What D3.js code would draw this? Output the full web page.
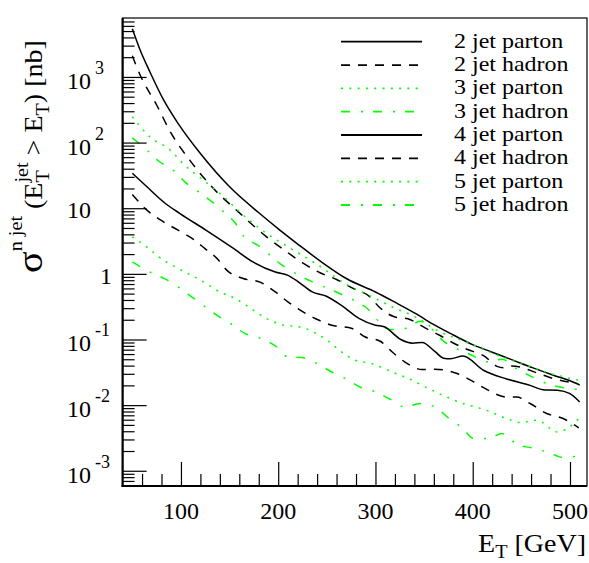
<!DOCTYPE html>
<html><head><meta charset="utf-8">
<script src="https://cdn.jsdelivr.net/npm/d3@7/dist/d3.min.js"></script>
<style>
html,body{margin:0;padding:0;background:#fff;}
svg{display:block;}
text{font-family:"Liberation Serif","Times New Roman",serif;fill:#000;}
</style></head>
<body>
<svg id="c" width="589" height="563"></svg>
<script>
// ---- data (E_T in GeV, sigma in nb) ----
const seriesNames = ["2 jet parton","2 jet hadron","3 jet parton","3 jet hadron","4 jet parton","4 jet hadron","5 jet parton","5 jet hadron"];
const jet2Parton = [[50,5400],[58,2570],[68,1200],[82,450],[97,196],[120,68],[150,21.2],[181,8.3],[202,4.6],[222,2.7],[245,1.5],[270,0.85],[300,0.53],[320,0.37],[341,0.25],[361,0.165],[380,0.117],[401,0.082],[420,0.064],[442,0.048],[462,0.037],[483,0.0286],[500,0.0235],[510,0.0203]];
const jet2Hadron = [[50,2100],[58,1070],[75,374],[90,138],[109,54],[132,21],[159,8.8],[188,3.66],[210,2.1],[226,1.44],[243,1.04],[260,0.82],[277,0.6],[294,0.45],[304,0.31],[318,0.226],[336,0.2],[351,0.15],[366,0.116],[379,0.09],[394,0.071],[412,0.0556],[425,0.039],[432,0.037],[440,0.0396],[468,0.0303],[483,0.0254],[507,0.0215]];
const jet3Parton = [[50,247],[68,122],[89,77],[102,48],[123,26.8],[140,16.8],[168,7.0],[188,4.13],[210,2.58],[241,1.36],[269,0.71],[296,0.45],[317,0.314],[341,0.221],[363,0.139],[397,0.087],[425,0.058],[455,0.0406],[486,0.0286],[509,0.024]];
const jet3Hadron = [[50,118],[65,77],[78,51],[92,38],[104,25.2],[118,17.8],[132,12.5],[144,8.8],[156,5.9],[165,3.66],[179,2.74],[204,1.36],[233,0.78],[262,0.51],[290,0.31],[315,0.142],[332,0.148],[346,0.19],[371,0.092],[399,0.0575],[415,0.0457],[430,0.05],[445,0.036],[461,0.027],[476,0.0214],[492,0.0186],[507,0.0174]];
const jet4Parton = [[50,34],[65,21.2],[84,11.8],[99,8.3],[126,4.6],[154,2.44],[174,1.52],[197,1.07],[210,0.95],[221,0.75],[235,0.53],[249,0.46],[265,0.33],[283,0.21],[300,0.165],[309,0.156],[326,0.1],[338,0.088],[348,0.09],[361,0.066],[370,0.052],[377,0.051],[390,0.056],[411,0.034],[435,0.025],[459,0.02],[472,0.0172],[487,0.0169],[500,0.015],[510,0.0112]];
const jet4Hadron = [[50,16.2],[65,9.35],[82,6.2],[97,4.63],[114,3.27],[125,2.4],[137,1.72],[147,1.14],[164,0.85],[182,0.74],[197,0.53],[210,0.374],[238,0.209],[255,0.165],[276,0.147],[289,0.11],[305,0.094],[317,0.065],[330,0.0456],[348,0.0349],[361,0.0352],[384,0.0303],[401,0.0226],[414,0.0175],[435,0.0133],[445,0.0133],[459,0.0106],[476,0.00745],[493,0.00625],[509,0.0045]];
const jet5Parton = [[50,3.66],[65,2.55],[78,1.78],[94,1.28],[109,0.98],[123,0.755],[140,0.53],[156,0.42],[171,0.303],[185,0.221],[200,0.175],[228,0.147],[250,0.098],[265,0.065],[279,0.0484],[296,0.043],[317,0.032],[334,0.0254],[358,0.0169],[390,0.0106],[414,0.00836],[435,0.00625],[449,0.00543],[466,0.00589],[487,0.00391],[497,0.0044],[509,0.00625]];
const jet5Hadron = [[50,1.52],[68,1.07],[84,0.83],[97,0.634],[111,0.447],[125,0.314],[138,0.229],[152,0.171],[166,0.123],[181,0.106],[197,0.08],[210,0.0543],[224,0.0531],[240,0.043],[255,0.032],[269,0.0254],[284,0.0189],[300,0.0159],[315,0.0123],[330,0.0094],[346,0.0106],[361,0.0094],[375,0.00638],[389,0.0045],[401,0.0031],[416,0.0031],[430,0.00369],[437,0.00328],[445,0.00251],[461,0.00223],[478,0.0019],[493,0.00159],[509,0.00169]];
const xTickLabels = [100,200,300,400,500];
const yTickExponents = [3,2,1,0,-1,-2,-3];

const seriesData = [jet2Parton,jet2Hadron,jet3Parton,jet3Hadron,jet4Parton,jet4Hadron,jet5Parton,jet5Hadron];
const GREEN = "#00ff00";
const styles = [
  {c:"#000",d:null},{c:"#000",d:"9,8"},{c:GREEN,d:"2,6.3"},{c:GREEN,d:"9,11,2,10"},
  {c:"#000",d:null},{c:"#000",d:"9,8"},{c:GREEN,d:"2,6.3"},{c:GREEN,d:"9,11,2,10"}
];

const svg = d3.select("#c");
const L=122.6, R=587, T=18, B=486;
const x = d3.scaleLinear().domain([40,517.5]).range([L,R]);
const y = d3.scaleLog().domain([Math.pow(10,-3.232),Math.pow(10,3.898)]).range([B,T]);

// curves
const line = d3.line().x(d=>x(d[0])).y(d=>y(d[1])).curve(d3.curveMonotoneX);
const plot = svg.append("g");
seriesData.forEach((s,i)=>{
  plot.append("path").attr("d",line(s)).attr("fill","none")
    .attr("stroke",styles[i].c).attr("stroke-width",1.5)
    .attr("stroke-dasharray",styles[i].d);
});

// frame
svg.append("rect").attr("x",L).attr("y",T).attr("width",R-L).attr("height",B-T)
  .attr("fill","none").attr("stroke","#000").attr("stroke-width",1.2);
svg.append("line").attr("x1",L).attr("x2",L).attr("y1",T).attr("y2",B+1).attr("stroke","#000").attr("stroke-width",2.2);
svg.append("line").attr("x1",L-1).attr("x2",R).attr("y1",B).attr("y2",B).attr("stroke","#000").attr("stroke-width",2.2);

// x axis ticks (inside)
const xAxis = d3.axisTop(x).tickValues(d3.range(60,520,20)).tickSize(12).tickFormat("");
const gx = svg.append("g").attr("transform",`translate(0,${B})`).call(xAxis);
gx.select(".domain").remove();
gx.selectAll(".tick line").attr("stroke","#000").attr("stroke-width",1.2)
  .attr("y2",d=> (d%100===0)? -24 : -12);
xTickLabels.forEach(v=>{
  svg.append("text").attr("x",x(v)).attr("y",519).attr("text-anchor","middle")
    .attr("font-size",24).text(v);
});

// y axis ticks (inside)
const yTickVals=[];
for(let e=-4;e<=3;e++){for(let m=1;m<=9;m++){const v=m*Math.pow(10,e); if(v>=y.domain()[0]&&v<=y.domain()[1]) yTickVals.push(v);}}
const yAxis = d3.axisRight(y).tickValues(yTickVals).tickFormat("");
const gy = svg.append("g").attr("transform",`translate(${L},0)`).call(yAxis);
gy.select(".domain").remove();
gy.selectAll(".tick line").attr("stroke","#000").attr("stroke-width",1.2)
  .attr("x2",d=>{const lg=Math.log10(d); return Math.abs(lg-Math.round(lg))<1e-9?24:12;});

yTickExponents.forEach(e=>{
  const py = y(Math.pow(10,e));
  if(e===0){
    svg.append("text").attr("x",100).attr("y",py+10).attr("font-size",24).text("1");
  } else if(e===1){
    svg.append("text").attr("x",67).attr("y",py+10).attr("font-size",24).text("10");
  } else {
    const t = svg.append("text").attr("x",67).attr("y",py+12).attr("font-size",24);
    t.append("tspan").text("10");
    t.append("tspan").attr("dx",4).attr("dy",-15).attr("font-size",18).text(String(e));
  }
});

// axis titles
const xt = svg.append("text").attr("text-anchor","end").attr("font-size",25)
  .attr("transform","translate(586,552) scale(1.12,1)");
xt.append("tspan").text("E");
xt.append("tspan").attr("font-size",18).attr("dy",6).text("T");
xt.append("tspan").attr("dy",-6).text(" [GeV]");

const yt = svg.append("text").attr("transform","translate(42,273) rotate(-90) scale(1.12,1)").attr("font-size",25);
yt.append("tspan").attr("font-size",36).text("σ");
yt.append("tspan").attr("font-size",18).attr("dy",-20).text("n jet");
yt.append("tspan").attr("dy",20).text(" (E");
yt.append("tspan").attr("font-size",18).attr("dy",7).text("T");
yt.append("tspan").attr("font-size",18).attr("dy",-21).attr("dx",-11).text("jet");
yt.append("tspan").attr("dy",14).text(" > E");
yt.append("tspan").attr("font-size",18).attr("dy",7).text("T");
yt.append("tspan").attr("dy",-7).text(") [nb]");

// legend
const legX1=341, legX2=422, legY0=41.7, legDy=23.33;
seriesNames.forEach((n,i)=>{
  const yy = legY0+i*legDy;
  svg.append("line").attr("x1",legX1).attr("x2",legX2).attr("y1",yy).attr("y2",yy)
    .attr("stroke",styles[i].c).attr("stroke-width",1.8).attr("stroke-dasharray",styles[i].d);
  svg.append("text").attr("transform",`translate(454,${yy+6}) scale(1.2,1)`)
    .attr("font-size",20).text(n);
});
</script>
</body></html>
